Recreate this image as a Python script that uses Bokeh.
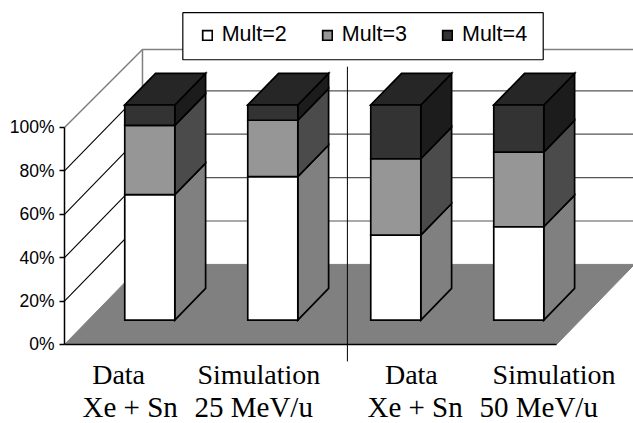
from bokeh.plotting import figure
from bokeh.models import Legend, LegendItem, FixedTicker, ColumnDataSource
from bokeh.core.properties import value
from bokeh.embed import file_html
from bokeh.resources import INLINE

# --- data -------------------------------------------------------------
series_names = ["Mult=2", "Mult=3", "Mult=4"]
mult2 = [58.3, 66.7, 39.5, 43.4]
mult3 = [32.2, 26.2, 35.5, 34.7]
mult4 = [9.5, 7.1, 25.0, 21.9]
top_labels = ["Data", "Simulation", "Data", "Simulation"]
group_labels = ["Xe + Sn", "25 MeV/u", "Xe + Sn", "50 MeV/u"]
y_ticks = [0, 20, 40, 60, 80, 100]

# --- styles and 3-D projection ----------------------------------------
front_colors = ["#ffffff", "#969696", "#333333"]
side_colors = ["#808080", "#4b4b4b", "#1c1c1c"]
top_color = "#262626"
floor_color = "#808080"

N = len(mult2)
DX, DY = 0.634, 36.9      # shift of the back wall per unit of depth
D0, D1 = 0.305, 0.70      # front and back depth of the bars
BAR_W = 0.407
STACK = 0.991             # height of a 100 % stack on the axis scale
WALL_TOP = 99.0


def proj(x, y, d):
    return x + d * DX, y + d * DY


def poly(pts):
    pp = [proj(*q) for q in pts]
    return [q[0] for q in pp], [q[1] for q in pp]


p = figure(width=633, height=423, output_backend="svg", toolbar_location=None,
           x_range=(-0.5203, 4.626), y_range=(-36.4, 158.5),
           x_axis_location=None, y_axis_location="left",
           min_border=0, outline_line_color=None, background_fill_color="#ffffff")
p.grid.visible = False

# floor
fx, fy = poly([(0, 0, 0), (N, 0, 0), (N, 0, 1), (0, 0, 1)])
p.patch(fx, fy, fill_color=floor_color, line_color=floor_color, line_width=1)

# wall grid lines
for t in y_ticks[1:-1]:
    lx, ly = zip(proj(0, t, 0), proj(0, t, 1))
    p.line(list(lx), list(ly), line_color="#000000", line_width=1.1)
    bx, by = zip(proj(0, t, 1), proj(N, t, 1))
    p.line(list(bx), list(by), line_color="#555555", line_width=1.2)
tx, ty = zip((0, 100), proj(0, WALL_TOP, 1), proj(N, WALL_TOP, 1))
p.line(list(tx), list(ty), line_color="#808080", line_width=1.5)
vx, vy = zip(proj(0, 0, 1), proj(0, WALL_TOP, 1))
p.line(list(vx), list(vy), line_color="#808080", line_width=1.5)
p.line([0, N], [0, 0], line_color="#000000", line_width=1.5)

# group separator
p.line([2.3, 2.3], [-7.8, 128], line_color="#000000", line_width=1)

# bars
series = [mult2, mult3, mult4]
front_xs, front_ys, side_xs, side_ys = [[], [], []], [[], [], []], [[], [], []], [[], [], []]
top_xs, top_ys = [], []
for i in range(N):
    x0 = i + 0.5 - BAR_W / 2
    x1 = i + 0.5 + BAR_W / 2
    base = 0.0
    for s in range(3):
        y0 = base * STACK
        y1 = (base + series[s][i]) * STACK
        a, b = poly([(x0, y0, D0), (x1, y0, D0), (x1, y1, D0), (x0, y1, D0)])
        front_xs[s].append(a)
        front_ys[s].append(b)
        a, b = poly([(x1, y0, D0), (x1, y0, D1), (x1, y1, D1), (x1, y1, D0)])
        side_xs[s].append(a)
        side_ys[s].append(b)
        base += series[s][i]
    a, b = poly([(x0, base * STACK, D0), (x1, base * STACK, D0),
                 (x1, base * STACK, D1), (x0, base * STACK, D1)])
    top_xs.append(a)
    top_ys.append(b)

face = dict(line_color="#000000", line_width=1.7, line_join="miter")
legend_items = []
for s in range(3):
    p.patches(side_xs[s], side_ys[s], fill_color=side_colors[s], **face)
p.patches(top_xs, top_ys, fill_color=top_color, **face)
for s in range(3):
    r = p.patches(front_xs[s], front_ys[s], fill_color=front_colors[s], **face)
    legend_items.append(LegendItem(label=series_names[s], renderers=[r]))

# axis
ax = p.yaxis[0]
ax.fixed_location = 0
ax.bounds = (0, 100)
ax.ticker = FixedTicker(ticks=y_ticks)
ax.major_label_overrides = {t: f"{t}%" for t in y_ticks}
ax.major_tick_in = 0
ax.major_tick_out = 5
ax.minor_tick_line_color = None
ax.axis_line_color = "#000000"
ax.axis_line_width = 1.5
ax.major_tick_line_color = "#000000"
ax.major_tick_line_width = 1.5
ax.major_label_text_font = "Liberation Sans"
ax.major_label_text_font_size = "17.5px"
ax.major_label_text_color = "#000000"
ax.major_label_standoff = 5

# category labels
serif = value("Liberation Serif")
lab_src = ColumnDataSource(dict(x=[0.44, 1.58, 2.82, 3.98], y=[-13.9] * N, t=top_labels))
p.text("x", "y", text="t", source=lab_src, text_font=serif, text_font_size="28px",
       text_color="#000000", text_align="center", text_baseline="alphabetic")
grp_src = ColumnDataSource(dict(x=[0.146, 1.057, 2.463, 3.374], y=[-28.7] * N, t=group_labels))
p.text("x", "y", text="t", source=grp_src, text_font=serif, text_font_size="29px",
       text_color="#000000", text_align="left", text_baseline="alphabetic")

# legend frame and legend
p.quad(left=0.962, right=3.892, top=152.9, bottom=131.2, fill_color="#ffffff",
       line_color="#000000", line_width=1.2)
legend = Legend(items=legend_items, orientation="horizontal", location=(200.7, 376),
                margin=0, padding=0, spacing=34, glyph_width=12, glyph_height=12,
                label_standoff=9, label_text_font="Liberation Sans",
                label_text_font_size="21.5px", label_text_color="#000000",
                label_height=12, border_line_color=None, background_fill_alpha=0)
p.add_layout(legend)

open("out.html", "w").write(file_html(p, INLINE))
